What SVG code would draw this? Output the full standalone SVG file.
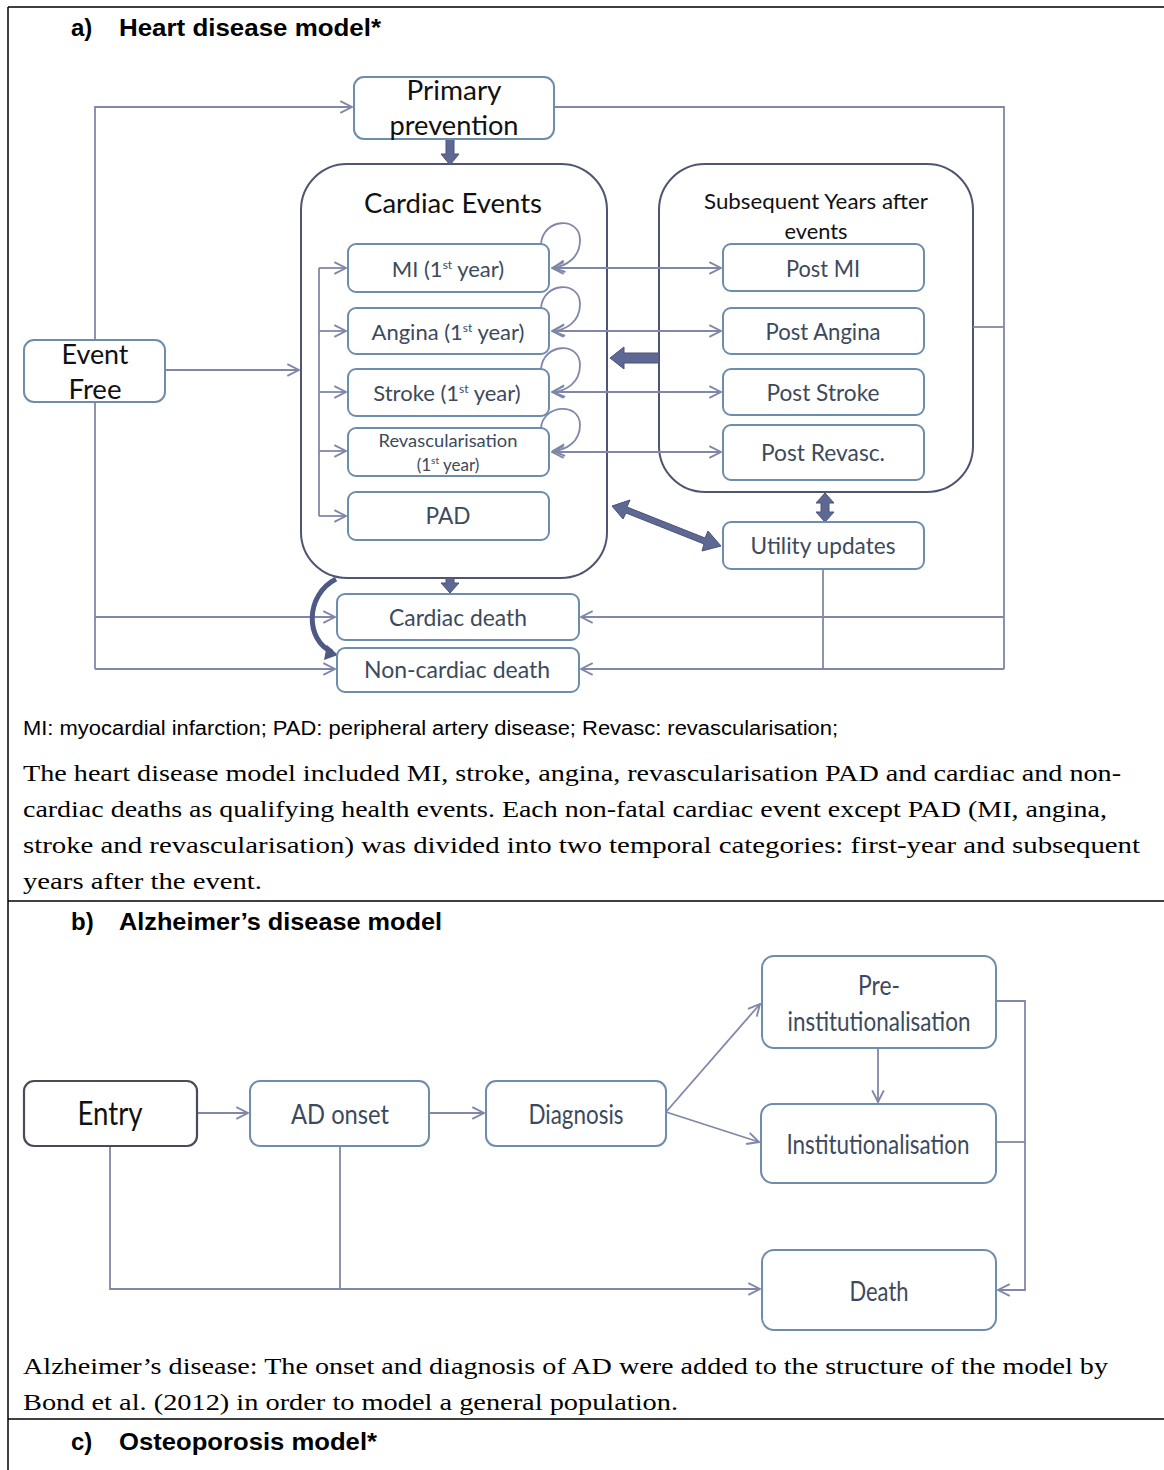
<svg xmlns="http://www.w3.org/2000/svg" width="1164" height="1470" viewBox="0 0 1164 1470">
<defs>
<marker id="ah" markerUnits="userSpaceOnUse" markerWidth="14" markerHeight="14" viewBox="0 0 12 12" refX="11" refY="6" orient="auto-start-reverse">
<path d="M1,1 L11,6 L1,11" fill="none" stroke="#7f86a8" stroke-width="1.6"/>
</marker>
</defs>
<style>
.frame{stroke:#000;stroke-width:1.5;fill:none}
.box{fill:#fff;stroke:#6e8dac;stroke-width:2}
.cont{fill:#fff;stroke:#4f5470;stroke-width:2}
.ln{fill:none;stroke:#8087a8;stroke-width:1.8}
.blk{fill:#5d6893;stroke:#4a5378;stroke-width:1}
.lbl{font-family:"Lato","Open Sans",sans-serif;fill:#3c4a5c;text-anchor:middle}
.dk{fill:#111}
.hd{font-family:"Liberation Sans",Arial,sans-serif;font-weight:bold;font-size:24px;fill:#000}
.cap{font-family:"Liberation Sans",Arial,sans-serif;font-size:20px;fill:#000}
.body{font-family:"Liberation Serif","Times New Roman",serif;font-size:24px;fill:#000}
</style>
<rect width="1164" height="1470" fill="#fff"/>
<g id="frame">
<line class="frame" x1="8" y1="7" x2="1164" y2="7"/>
<line class="frame" x1="8" y1="7" x2="8" y2="1470"/>
<line class="frame" x1="8" y1="901" x2="1164" y2="901"/>
<line class="frame" x1="8" y1="1419" x2="1164" y2="1419"/>
</g>
<g id="texts">
<text class="hd" x="71" y="36">a)</text>
<text class="hd" x="119" y="36" textLength="262" lengthAdjust="spacingAndGlyphs">Heart disease model*</text>
<text class="cap" x="23" y="735" textLength="815" lengthAdjust="spacingAndGlyphs">MI: myocardial infarction; PAD: peripheral artery disease; Revasc: revascularisation;</text>
<text class="body" x="23" y="781" textLength="1098" lengthAdjust="spacingAndGlyphs">The heart disease model included MI, stroke, angina, revascularisation PAD and cardiac and non-</text>
<text class="body" x="23" y="817" textLength="1084" lengthAdjust="spacingAndGlyphs">cardiac deaths as qualifying health events. Each non-fatal cardiac event except PAD (MI, angina,</text>
<text class="body" x="23" y="853" textLength="1117" lengthAdjust="spacingAndGlyphs">stroke and revascularisation) was divided into two temporal categories: first-year and subsequent</text>
<text class="body" x="23" y="889" textLength="239" lengthAdjust="spacingAndGlyphs">years after the event.</text>
<text class="hd" x="71" y="930">b)</text>
<text class="hd" x="119" y="930" textLength="323" lengthAdjust="spacingAndGlyphs">Alzheimer’s disease model</text>
<text class="body" x="23" y="1374" textLength="1085" lengthAdjust="spacingAndGlyphs">Alzheimer’s disease: The onset and diagnosis of AD were added to the structure of the model by</text>
<text class="body" x="23" y="1410" textLength="655" lengthAdjust="spacingAndGlyphs">Bond et al. (2012) in order to model a general population.</text>
<text class="hd" x="71" y="1450">c)</text>
<text class="hd" x="119" y="1450" textLength="258" lengthAdjust="spacingAndGlyphs">Osteoporosis model*</text>
</g>
<g id="cardiac-events">
<rect class="cont" x="301" y="164" width="306" height="414" rx="46"/>
<text class="lbl dk" x="453" y="213" font-size="27" textLength="178" lengthAdjust="spacingAndGlyphs">Cardiac Events</text>
</g>
<g id="subsequent">
<rect class="cont" x="659" y="164" width="314" height="328" rx="46"/>
<text class="lbl dk" x="816" y="209" font-size="21" textLength="224" lengthAdjust="spacingAndGlyphs">Subsequent Years after</text>
<text class="lbl dk" x="816" y="239" font-size="21" textLength="63" lengthAdjust="spacingAndGlyphs">events</text>
</g>
<g id="connectors">
<polyline class="ln" points="95,340 95,107 352,107" marker-end="url(#ah)"/>
<line class="ln" x1="95" y1="402" x2="95" y2="669"/>
<line class="ln" x1="95" y1="617" x2="335" y2="617" marker-end="url(#ah)"/>
<line class="ln" x1="95" y1="669" x2="335" y2="669" marker-end="url(#ah)"/>
<line class="ln" x1="165" y1="370" x2="299" y2="370" marker-end="url(#ah)"/>
<polyline class="ln" points="554,107 1004,107 1004,669"/>
<line class="ln" x1="973" y1="327" x2="1004" y2="327"/>
<line class="ln" x1="1004" y1="617" x2="581" y2="617" marker-end="url(#ah)"/>
<line class="ln" x1="1004" y1="669" x2="581" y2="669" marker-end="url(#ah)"/>
<line class="ln" x1="823" y1="569" x2="823" y2="669"/>
<line class="ln" x1="319" y1="268" x2="319" y2="516"/>
<line class="ln" x1="319" y1="268" x2="346" y2="268" marker-end="url(#ah)"/>
<line class="ln" x1="319" y1="331" x2="346" y2="331" marker-end="url(#ah)"/>
<line class="ln" x1="319" y1="392" x2="346" y2="392" marker-end="url(#ah)"/>
<line class="ln" x1="319" y1="451" x2="346" y2="451" marker-end="url(#ah)"/>
<line class="ln" x1="319" y1="516" x2="346" y2="516" marker-end="url(#ah)"/>
<line class="ln" x1="552" y1="268" x2="721" y2="268" marker-start="url(#ah)" marker-end="url(#ah)"/>
<line class="ln" x1="552" y1="331" x2="721" y2="331" marker-start="url(#ah)" marker-end="url(#ah)"/>
<line class="ln" x1="552" y1="392" x2="721" y2="392" marker-start="url(#ah)" marker-end="url(#ah)"/>
<line class="ln" x1="552" y1="452" x2="721" y2="452" marker-start="url(#ah)" marker-end="url(#ah)"/>
<path class="ln" d="M541,244 C543,218 580,216 580,240 C580,258 566,266 553,268" marker-end="url(#ah)"/>
<path class="ln" d="M541,308 C543,282 580,280 580,304 C580,322 566,330 553,331" marker-end="url(#ah)"/>
<path class="ln" d="M541,369 C543,343 580,341 580,365 C580,383 566,391 553,392" marker-end="url(#ah)"/>
<path class="ln" d="M541,428 C543,404 580,402 580,425 C580,442 566,450 553,451" marker-end="url(#ah)"/>
<polygon class="blk" points="446,139 454,139 454,154 459,154 450,165 441,154 446,154"/>
<polygon class="blk" points="446,578 454,578 454,583 459,583 450,593 441,583 446,583"/>
<polygon class="blk" points="659,353 624,353 624,347 610,358 624,369 624,363 659,363"/>
<polygon class="blk" points="825,493 834,503 829,503 829,512 834,512 825,522 816,512 821,512 821,503 816,503"/>
<polygon class="blk" points="612,506 630,500 627,507 705,538 708,531 721,546 702,551 704,544 626,513 623,519"/>
<path d="M336,579 C305,595 305,640 332,652" fill="none" stroke="#4f5984" stroke-width="5"/>
<path d="M327,645 L338,655 L324,660 Z" fill="#4f5984"/>
<line class="ln" x1="197" y1="1113" x2="248" y2="1113" marker-end="url(#ah)"/>
<line class="ln" x1="429" y1="1113" x2="484" y2="1113" marker-end="url(#ah)"/>
<line class="ln" x1="666" y1="1112" x2="760" y2="1004" marker-end="url(#ah)"/>
<line class="ln" x1="666" y1="1112" x2="759" y2="1142" marker-end="url(#ah)"/>
<line class="ln" x1="878" y1="1048" x2="878" y2="1102" marker-end="url(#ah)"/>
<polyline class="ln" points="996,1001 1025,1001 1025,1290 998,1290" marker-end="url(#ah)"/>
<line class="ln" x1="996" y1="1142" x2="1025" y2="1142"/>
<polyline class="ln" points="110,1146 110,1289 760,1289" marker-end="url(#ah)"/>
<line class="ln" x1="340" y1="1146" x2="340" y2="1289"/>
</g>
<g id="primary-prevention">
<rect class="box" x="354" y="77" width="200" height="62" rx="10"/>
<text class="lbl dk" x="454" y="100" font-size="27" textLength="95" lengthAdjust="spacingAndGlyphs">Primary</text>
<text class="lbl dk" x="454" y="135" font-size="27" textLength="129" lengthAdjust="spacingAndGlyphs">prevention</text>
</g>
<g id="event-free">
<rect class="box" x="24" y="340" width="141" height="62" rx="10"/>
<text class="lbl dk" x="95" y="364" font-size="27" textLength="67" lengthAdjust="spacingAndGlyphs">Event</text>
<text class="lbl dk" x="95" y="399" font-size="27" textLength="53" lengthAdjust="spacingAndGlyphs">Free</text>
</g>
<g id="mi">
<rect class="box" x="348" y="244" width="201" height="48" rx="8"/>
<text class="lbl" x="448" y="277" font-size="22">MI (1<tspan font-size="12" dy="-8">st</tspan><tspan dy="8"> year)</tspan></text>
</g>
<g id="angina">
<rect class="box" x="348" y="308" width="201" height="46" rx="8"/>
<text class="lbl" x="448" y="340" font-size="22">Angina (1<tspan font-size="12" dy="-8">st</tspan><tspan dy="8"> year)</tspan></text>
</g>
<g id="stroke">
<rect class="box" x="348" y="369" width="201" height="47" rx="8"/>
<text class="lbl" x="447" y="401" font-size="22">Stroke (1<tspan font-size="12" dy="-8">st</tspan><tspan dy="8"> year)</tspan></text>
</g>
<g id="revasc">
<rect class="box" x="348" y="428" width="201" height="48" rx="8"/>
<text class="lbl" x="448" y="447" font-size="17" textLength="139" lengthAdjust="spacingAndGlyphs">Revascularisation</text>
<text class="lbl" x="448" y="471" font-size="17">(1<tspan font-size="10" dy="-7">st</tspan><tspan dy="7"> year)</tspan></text>
</g>
<g id="pad">
<rect class="box" x="348" y="492" width="201" height="48" rx="8"/>
<text class="lbl" x="448" y="524" font-size="23" textLength="45" lengthAdjust="spacingAndGlyphs">PAD</text>
</g>
<g id="post-mi">
<rect class="box" x="723" y="244" width="201" height="47" rx="8"/>
<text class="lbl" x="823" y="277" font-size="23" textLength="74" lengthAdjust="spacingAndGlyphs">Post MI</text>
</g>
<g id="post-angina">
<rect class="box" x="723" y="308" width="201" height="46" rx="8"/>
<text class="lbl" x="823" y="340" font-size="23" textLength="115" lengthAdjust="spacingAndGlyphs">Post Angina</text>
</g>
<g id="post-stroke">
<rect class="box" x="723" y="369" width="201" height="46" rx="8"/>
<text class="lbl" x="823" y="401" font-size="23" textLength="113" lengthAdjust="spacingAndGlyphs">Post Stroke</text>
</g>
<g id="post-revasc">
<rect class="box" x="723" y="425" width="201" height="55" rx="8"/>
<text class="lbl" x="823" y="461" font-size="23" textLength="124" lengthAdjust="spacingAndGlyphs">Post Revasc.</text>
</g>
<g id="utility">
<rect class="box" x="723" y="522" width="201" height="47" rx="8"/>
<text class="lbl" x="823" y="554" font-size="23" textLength="145" lengthAdjust="spacingAndGlyphs">Utility updates</text>
</g>
<g id="cardiac-death">
<rect class="box" x="337" y="594" width="242" height="46" rx="8"/>
<text class="lbl" x="458" y="626" font-size="23" textLength="138" lengthAdjust="spacingAndGlyphs">Cardiac death</text>
</g>
<g id="noncardiac-death">
<rect class="box" x="337" y="648" width="242" height="44" rx="8"/>
<text class="lbl" x="457" y="678" font-size="23" textLength="186" lengthAdjust="spacingAndGlyphs">Non-cardiac death</text>
</g>
<g id="entry">
<rect x="24" y="1081" width="173" height="65" rx="10" fill="#fff" stroke="#4a4a5c" stroke-width="2.2"/>
<text class="lbl dk" x="110" y="1125" font-size="32" textLength="65" lengthAdjust="spacingAndGlyphs">Entry</text>
</g>
<g id="ad-onset">
<rect class="box" x="250" y="1081" width="179" height="65" rx="10"/>
<text class="lbl" x="340" y="1124" font-size="27" textLength="98" lengthAdjust="spacingAndGlyphs">AD onset</text>
</g>
<g id="diagnosis">
<rect class="box" x="486" y="1081" width="180" height="65" rx="10"/>
<text class="lbl" x="576" y="1124" font-size="27" textLength="95" lengthAdjust="spacingAndGlyphs">Diagnosis</text>
</g>
<g id="pre-inst">
<rect class="box" x="762" y="956" width="234" height="92" rx="12"/>
<text class="lbl" x="879" y="995" font-size="27" textLength="42" lengthAdjust="spacingAndGlyphs">Pre-</text>
<text class="lbl" x="879" y="1031" font-size="27" textLength="183" lengthAdjust="spacingAndGlyphs">institutionalisation</text>
</g>
<g id="inst">
<rect class="box" x="761" y="1104" width="235" height="79" rx="12"/>
<text class="lbl" x="878" y="1154" font-size="27" textLength="183" lengthAdjust="spacingAndGlyphs">Institutionalisation</text>
</g>
<g id="death">
<rect class="box" x="762" y="1250" width="234" height="80" rx="12"/>
<text class="lbl" x="879" y="1301" font-size="27" textLength="59" lengthAdjust="spacingAndGlyphs">Death</text>
</g>
</svg>
